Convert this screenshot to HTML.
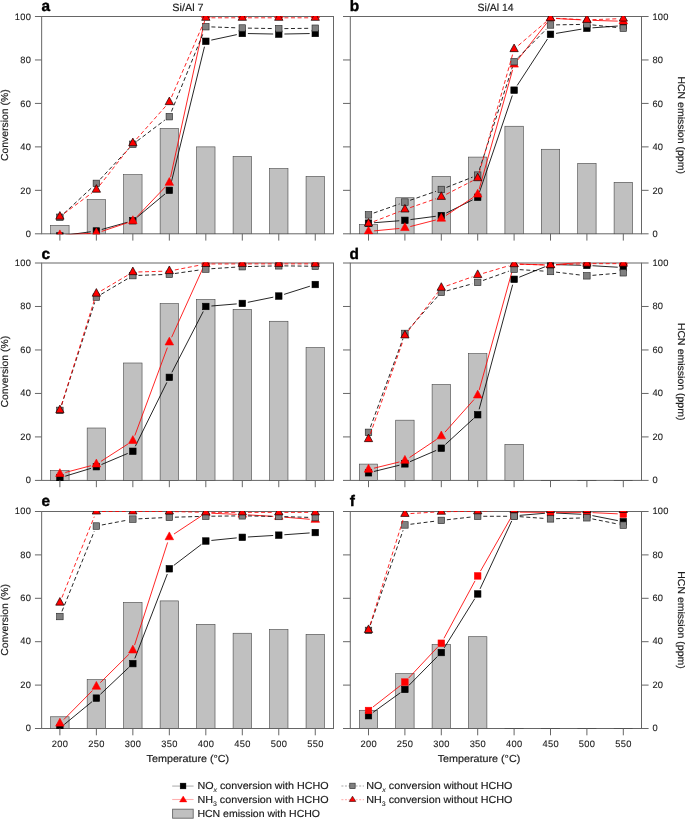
<!DOCTYPE html>
<html><head><meta charset="utf-8"><title>Figure</title>
<style>
html,body{margin:0;padding:0;background:#fff;}
body{width:685px;height:819px;overflow:hidden;}
svg{display:block;will-change:transform;}
text{text-rendering:geometricPrecision;}
.t{font-family:"Liberation Sans", Arial, sans-serif;font-size:10.1px;fill:#1c1c1c;stroke:#1c1c1c;stroke-width:0.18px;}
.k{font-family:"Liberation Sans", Arial, sans-serif;font-size:9.3px;fill:#1c1c1c;letter-spacing:0.3px;stroke:#1c1c1c;stroke-width:0.12px;}
.sub{font-size:6.6px;stroke-width:0.08px;}
.pl{font-family:"Liberation Sans", Arial, sans-serif;font-size:15.4px;font-weight:bold;fill:#000;stroke:#000;stroke-width:0.4px;}
</style></head><body>
<svg width="685" height="819" viewBox="0 0 685 819">
<rect width="685" height="819" fill="#fff"/>
<clipPath id="clip_a"><rect x="41.15" y="16" width="292.85" height="218.3"/></clipPath>
<rect x="41.65" y="16.5" width="291.85" height="217.3" fill="none" stroke="#666" stroke-width="1"/>
<g clip-path="url(#clip_a)">
<rect x="50.69" y="225.33" width="18.4" height="8.48" fill="#c0c0c0" stroke="#444" stroke-width="0.6"/>
<rect x="87.17" y="199.68" width="18.4" height="34.13" fill="#c0c0c0" stroke="#444" stroke-width="0.6"/>
<rect x="123.65" y="174.69" width="18.4" height="59.12" fill="#c0c0c0" stroke="#444" stroke-width="0.6"/>
<rect x="160.13" y="128.41" width="18.4" height="105.4" fill="#c0c0c0" stroke="#444" stroke-width="0.6"/>
<rect x="196.62" y="146.88" width="18.4" height="86.93" fill="#c0c0c0" stroke="#444" stroke-width="0.6"/>
<rect x="233.1" y="156.44" width="18.4" height="77.37" fill="#c0c0c0" stroke="#444" stroke-width="0.6"/>
<rect x="269.58" y="168.61" width="18.4" height="65.2" fill="#c0c0c0" stroke="#444" stroke-width="0.6"/>
<rect x="306.06" y="176.43" width="18.4" height="57.38" fill="#c0c0c0" stroke="#444" stroke-width="0.6"/>
<line x1="65.44" y1="235.21" x2="90.82" y2="231.74" stroke="#000" stroke-width="0.85"/>
<line x1="101.76" y1="229.47" x2="127.46" y2="222.27" stroke="#000" stroke-width="0.85"/>
<line x1="137.15" y1="217.18" x2="165.03" y2="193.93" stroke="#000" stroke-width="0.85"/>
<line x1="170.67" y1="184.9" x2="204.48" y2="46.71" stroke="#000" stroke-width="0.85"/>
<line x1="211.29" y1="40.1" x2="236.82" y2="34.62" stroke="#000" stroke-width="0.85"/>
<line x1="247.9" y1="33.55" x2="273.18" y2="34" stroke="#000" stroke-width="0.85"/>
<line x1="284.38" y1="34" x2="309.66" y2="33.55" stroke="#000" stroke-width="0.85"/>
<rect x="56.64" y="232.72" width="6.5" height="6.5" fill="#000" stroke="#000" stroke-width="0.6"/>
<rect x="93.12" y="227.73" width="6.5" height="6.5" fill="#000" stroke="#000" stroke-width="0.6"/>
<rect x="129.6" y="217.51" width="6.5" height="6.5" fill="#000" stroke="#000" stroke-width="0.6"/>
<rect x="166.08" y="187.09" width="6.5" height="6.5" fill="#000" stroke="#000" stroke-width="0.6"/>
<rect x="202.57" y="38.02" width="6.5" height="6.5" fill="#000" stroke="#000" stroke-width="0.6"/>
<rect x="239.05" y="30.2" width="6.5" height="6.5" fill="#000" stroke="#000" stroke-width="0.6"/>
<rect x="275.53" y="30.85" width="6.5" height="6.5" fill="#000" stroke="#000" stroke-width="0.6"/>
<rect x="312.01" y="30.2" width="6.5" height="6.5" fill="#000" stroke="#000" stroke-width="0.6"/>
<line x1="65.48" y1="234.8" x2="90.78" y2="233.45" stroke="#f00" stroke-width="0.85"/>
<line x1="101.68" y1="231.38" x2="127.54" y2="222.75" stroke="#f00" stroke-width="0.85"/>
<line x1="136.72" y1="216.93" x2="165.47" y2="186.79" stroke="#f00" stroke-width="0.85"/>
<line x1="170.53" y1="177.26" x2="204.62" y2="20.67" stroke="#f00" stroke-width="0.85"/>
<line x1="211.42" y1="15.2" x2="236.7" y2="15.2" stroke="#f00" stroke-width="0.85"/>
<line x1="247.9" y1="15.2" x2="273.18" y2="15.2" stroke="#f00" stroke-width="0.85"/>
<line x1="284.38" y1="15.2" x2="309.66" y2="15.2" stroke="#f00" stroke-width="0.85"/>
<path d="M59.89 229.9L64.14 237.7L55.64 237.7Z" fill="#f00" stroke="#f00" stroke-width="0.6" stroke-linejoin="miter"/>
<path d="M96.37 227.95L100.62 235.75L92.12 235.75Z" fill="#f00" stroke="#f00" stroke-width="0.6" stroke-linejoin="miter"/>
<path d="M132.85 215.78L137.1 223.58L128.6 223.58Z" fill="#f00" stroke="#f00" stroke-width="0.6" stroke-linejoin="miter"/>
<path d="M169.33 177.53L173.58 185.33L165.08 185.33Z" fill="#f00" stroke="#f00" stroke-width="0.6" stroke-linejoin="miter"/>
<path d="M205.82 10L210.07 17.8L201.57 17.8Z" fill="#f00" stroke="#f00" stroke-width="0.6" stroke-linejoin="miter"/>
<path d="M242.3 10L246.55 17.8L238.05 17.8Z" fill="#f00" stroke="#f00" stroke-width="0.6" stroke-linejoin="miter"/>
<path d="M278.78 10L283.03 17.8L274.53 17.8Z" fill="#f00" stroke="#f00" stroke-width="0.6" stroke-linejoin="miter"/>
<path d="M315.26 10L319.51 17.8L311.01 17.8Z" fill="#f00" stroke="#f00" stroke-width="0.6" stroke-linejoin="miter"/>
<line x1="63.99" y1="213.47" x2="92.27" y2="187.2" stroke="#000" stroke-width="0.85" stroke-dasharray="4 2.6"/>
<line x1="100.19" y1="179.29" x2="129.03" y2="148.37" stroke="#000" stroke-width="0.85" stroke-dasharray="4 2.6"/>
<line x1="137.32" y1="140.89" x2="164.87" y2="120.05" stroke="#000" stroke-width="0.85" stroke-dasharray="4 2.6"/>
<line x1="171.44" y1="111.49" x2="203.71" y2="31.9" stroke="#000" stroke-width="0.85" stroke-dasharray="4 2.6"/>
<line x1="211.41" y1="26.91" x2="236.7" y2="27.82" stroke="#000" stroke-width="0.85" stroke-dasharray="4 2.6"/>
<line x1="247.9" y1="28.12" x2="273.18" y2="28.57" stroke="#000" stroke-width="0.85" stroke-dasharray="4 2.6"/>
<line x1="284.38" y1="28.6" x2="309.66" y2="28.3" stroke="#000" stroke-width="0.85" stroke-dasharray="4 2.6"/>
<rect x="56.64" y="214.04" width="6.5" height="6.5" fill="#808080" stroke="#222" stroke-width="0.6"/>
<rect x="93.12" y="180.14" width="6.5" height="6.5" fill="#808080" stroke="#222" stroke-width="0.6"/>
<rect x="129.6" y="141.02" width="6.5" height="6.5" fill="#808080" stroke="#222" stroke-width="0.6"/>
<rect x="166.08" y="113.43" width="6.5" height="6.5" fill="#808080" stroke="#222" stroke-width="0.6"/>
<rect x="202.57" y="23.46" width="6.5" height="6.5" fill="#808080" stroke="#222" stroke-width="0.6"/>
<rect x="239.05" y="24.77" width="6.5" height="6.5" fill="#808080" stroke="#222" stroke-width="0.6"/>
<rect x="275.53" y="25.42" width="6.5" height="6.5" fill="#808080" stroke="#222" stroke-width="0.6"/>
<rect x="312.01" y="24.98" width="6.5" height="6.5" fill="#808080" stroke="#222" stroke-width="0.6"/>
<line x1="64.4" y1="213.31" x2="91.87" y2="193.02" stroke="#f00" stroke-width="0.85" stroke-dasharray="4 2.6"/>
<line x1="99.83" y1="185.28" x2="129.4" y2="147.59" stroke="#f00" stroke-width="0.85" stroke-dasharray="4 2.6"/>
<line x1="136.57" y1="139" x2="165.62" y2="106.3" stroke="#f00" stroke-width="0.85" stroke-dasharray="4 2.6"/>
<line x1="171.56" y1="96.98" x2="203.59" y2="22.94" stroke="#f00" stroke-width="0.85" stroke-dasharray="4 2.6"/>
<line x1="211.42" y1="17.8" x2="236.7" y2="17.8" stroke="#f00" stroke-width="0.85" stroke-dasharray="4 2.6"/>
<line x1="247.9" y1="17.8" x2="273.18" y2="17.8" stroke="#f00" stroke-width="0.85" stroke-dasharray="4 2.6"/>
<line x1="284.38" y1="17.8" x2="309.66" y2="17.8" stroke="#f00" stroke-width="0.85" stroke-dasharray="4 2.6"/>
<path d="M59.89 211.57L64.04 219.17L55.74 219.17Z" fill="#f00" stroke="#100" stroke-width="0.7" stroke-linejoin="miter"/>
<path d="M96.37 184.62L100.52 192.22L92.22 192.22Z" fill="#f00" stroke="#100" stroke-width="0.7" stroke-linejoin="miter"/>
<path d="M132.85 138.12L137 145.72L128.7 145.72Z" fill="#f00" stroke="#100" stroke-width="0.7" stroke-linejoin="miter"/>
<path d="M169.33 97.05L173.48 104.65L165.18 104.65Z" fill="#f00" stroke="#100" stroke-width="0.7" stroke-linejoin="miter"/>
<path d="M205.82 12.74L209.97 20.34L201.67 20.34Z" fill="#f00" stroke="#100" stroke-width="0.7" stroke-linejoin="miter"/>
<path d="M242.3 12.74L246.45 20.34L238.15 20.34Z" fill="#f00" stroke="#100" stroke-width="0.7" stroke-linejoin="miter"/>
<path d="M278.78 12.74L282.93 20.34L274.63 20.34Z" fill="#f00" stroke="#100" stroke-width="0.7" stroke-linejoin="miter"/>
<path d="M315.26 12.74L319.41 20.34L311.11 20.34Z" fill="#f00" stroke="#100" stroke-width="0.7" stroke-linejoin="miter"/>
</g>
<line x1="59.89" y1="233.8" x2="59.89" y2="240.6" stroke="#666" stroke-width="1"/>
<line x1="96.37" y1="233.8" x2="96.37" y2="240.6" stroke="#666" stroke-width="1"/>
<line x1="132.85" y1="233.8" x2="132.85" y2="240.6" stroke="#666" stroke-width="1"/>
<line x1="169.33" y1="233.8" x2="169.33" y2="240.6" stroke="#666" stroke-width="1"/>
<line x1="205.82" y1="233.8" x2="205.82" y2="240.6" stroke="#666" stroke-width="1"/>
<line x1="242.3" y1="233.8" x2="242.3" y2="240.6" stroke="#666" stroke-width="1"/>
<line x1="278.78" y1="233.8" x2="278.78" y2="240.6" stroke="#666" stroke-width="1"/>
<line x1="315.26" y1="233.8" x2="315.26" y2="240.6" stroke="#666" stroke-width="1"/>
<line x1="34.95" y1="233.8" x2="41.65" y2="233.8" stroke="#666" stroke-width="1"/>
<text x="31.2" y="237" text-anchor="end" class="k">0</text>
<line x1="34.95" y1="190.34" x2="41.65" y2="190.34" stroke="#666" stroke-width="1"/>
<text x="31.2" y="193.54" text-anchor="end" class="k">20</text>
<line x1="34.95" y1="146.88" x2="41.65" y2="146.88" stroke="#666" stroke-width="1"/>
<text x="31.2" y="150.08" text-anchor="end" class="k">40</text>
<line x1="34.95" y1="103.42" x2="41.65" y2="103.42" stroke="#666" stroke-width="1"/>
<text x="31.2" y="106.62" text-anchor="end" class="k">60</text>
<line x1="34.95" y1="59.96" x2="41.65" y2="59.96" stroke="#666" stroke-width="1"/>
<text x="31.2" y="63.16" text-anchor="end" class="k">80</text>
<line x1="34.95" y1="16.5" x2="41.65" y2="16.5" stroke="#666" stroke-width="1"/>
<text x="31.2" y="19.7" text-anchor="end" class="k">100</text>
<text transform="translate(7.6 125.15) rotate(-90)" text-anchor="middle" class="t" textLength="71.7" lengthAdjust="spacingAndGlyphs">Conversion (%)</text>
<clipPath id="clip_b"><rect x="349.8" y="16" width="292.2" height="218.3"/></clipPath>
<rect x="350.3" y="16.5" width="291.2" height="217.3" fill="none" stroke="#666" stroke-width="1"/>
<g clip-path="url(#clip_b)">
<rect x="359.3" y="224.67" width="18.4" height="9.14" fill="#c0c0c0" stroke="#444" stroke-width="0.6"/>
<rect x="395.7" y="197.73" width="18.4" height="36.08" fill="#c0c0c0" stroke="#444" stroke-width="0.6"/>
<rect x="432.1" y="176.43" width="18.4" height="57.38" fill="#c0c0c0" stroke="#444" stroke-width="0.6"/>
<rect x="468.5" y="157.09" width="18.4" height="76.72" fill="#c0c0c0" stroke="#444" stroke-width="0.6"/>
<rect x="504.9" y="126.24" width="18.4" height="107.57" fill="#c0c0c0" stroke="#444" stroke-width="0.6"/>
<rect x="541.3" y="149.27" width="18.4" height="84.54" fill="#c0c0c0" stroke="#444" stroke-width="0.6"/>
<rect x="577.7" y="163.39" width="18.4" height="70.42" fill="#c0c0c0" stroke="#444" stroke-width="0.6"/>
<rect x="614.1" y="182.3" width="18.4" height="51.51" fill="#c0c0c0" stroke="#444" stroke-width="0.6"/>
<line x1="374.08" y1="222.72" x2="399.32" y2="220.76" stroke="#000" stroke-width="0.85"/>
<line x1="410.45" y1="219.6" x2="435.75" y2="216.28" stroke="#000" stroke-width="0.85"/>
<line x1="446.31" y1="213.04" x2="472.69" y2="199.8" stroke="#000" stroke-width="0.85"/>
<line x1="479.5" y1="191.99" x2="512.3" y2="95.47" stroke="#000" stroke-width="0.85"/>
<line x1="517.16" y1="85.47" x2="547.44" y2="39.01" stroke="#000" stroke-width="0.85"/>
<line x1="556.02" y1="33.4" x2="581.38" y2="29.16" stroke="#000" stroke-width="0.85"/>
<line x1="592.49" y1="27.83" x2="617.71" y2="26.03" stroke="#000" stroke-width="0.85"/>
<rect x="365.25" y="219.9" width="6.5" height="6.5" fill="#000" stroke="#000" stroke-width="0.6"/>
<rect x="401.65" y="217.08" width="6.5" height="6.5" fill="#000" stroke="#000" stroke-width="0.6"/>
<rect x="438.05" y="212.3" width="6.5" height="6.5" fill="#000" stroke="#000" stroke-width="0.6"/>
<rect x="474.45" y="194.04" width="6.5" height="6.5" fill="#000" stroke="#000" stroke-width="0.6"/>
<rect x="510.85" y="86.91" width="6.5" height="6.5" fill="#000" stroke="#000" stroke-width="0.6"/>
<rect x="547.25" y="31.07" width="6.5" height="6.5" fill="#000" stroke="#000" stroke-width="0.6"/>
<rect x="583.65" y="24.98" width="6.5" height="6.5" fill="#000" stroke="#000" stroke-width="0.6"/>
<rect x="620.05" y="22.38" width="6.5" height="6.5" fill="#000" stroke="#000" stroke-width="0.6"/>
<line x1="374.07" y1="230.88" x2="399.33" y2="228.47" stroke="#f00" stroke-width="0.85"/>
<line x1="410.32" y1="226.54" x2="435.88" y2="219.98" stroke="#f00" stroke-width="0.85"/>
<line x1="445.97" y1="215.5" x2="473.03" y2="197.56" stroke="#f00" stroke-width="0.85"/>
<line x1="479.21" y1="189.08" x2="512.59" y2="69.92" stroke="#f00" stroke-width="0.85"/>
<line x1="517.56" y1="60.12" x2="547.04" y2="22.64" stroke="#f00" stroke-width="0.85"/>
<line x1="556.09" y1="18.54" x2="581.31" y2="19.89" stroke="#f00" stroke-width="0.85"/>
<line x1="592.5" y1="20.36" x2="617.7" y2="21.11" stroke="#f00" stroke-width="0.85"/>
<path d="M368.5 226.21L372.75 234.01L364.25 234.01Z" fill="#f00" stroke="#f00" stroke-width="0.6" stroke-linejoin="miter"/>
<path d="M404.9 222.73L409.15 230.53L400.65 230.53Z" fill="#f00" stroke="#f00" stroke-width="0.6" stroke-linejoin="miter"/>
<path d="M441.3 213.39L445.55 221.19L437.05 221.19Z" fill="#f00" stroke="#f00" stroke-width="0.6" stroke-linejoin="miter"/>
<path d="M477.7 189.27L481.95 197.07L473.45 197.07Z" fill="#f00" stroke="#f00" stroke-width="0.6" stroke-linejoin="miter"/>
<path d="M514.1 59.32L518.35 67.12L509.85 67.12Z" fill="#f00" stroke="#f00" stroke-width="0.6" stroke-linejoin="miter"/>
<path d="M550.5 13.04L554.75 20.84L546.25 20.84Z" fill="#f00" stroke="#f00" stroke-width="0.6" stroke-linejoin="miter"/>
<path d="M586.9 14.99L591.15 22.79L582.65 22.79Z" fill="#f00" stroke="#f00" stroke-width="0.6" stroke-linejoin="miter"/>
<path d="M623.3 16.08L627.55 23.88L619.05 23.88Z" fill="#f00" stroke="#f00" stroke-width="0.6" stroke-linejoin="miter"/>
<line x1="373.78" y1="213.03" x2="399.62" y2="203.93" stroke="#000" stroke-width="0.85" stroke-dasharray="4 2.6"/>
<line x1="410.19" y1="200.24" x2="436.01" y2="191.3" stroke="#000" stroke-width="0.85" stroke-dasharray="4 2.6"/>
<line x1="446.51" y1="187.42" x2="472.49" y2="177.18" stroke="#000" stroke-width="0.85" stroke-dasharray="4 2.6"/>
<line x1="479.41" y1="169.8" x2="512.39" y2="67.03" stroke="#000" stroke-width="0.85" stroke-dasharray="4 2.6"/>
<line x1="518.04" y1="57.72" x2="546.56" y2="28.95" stroke="#000" stroke-width="0.85" stroke-dasharray="4 2.6"/>
<line x1="556.1" y1="24.87" x2="581.3" y2="24.42" stroke="#000" stroke-width="0.85" stroke-dasharray="4 2.6"/>
<line x1="592.47" y1="24.92" x2="617.73" y2="27.64" stroke="#000" stroke-width="0.85" stroke-dasharray="4 2.6"/>
<rect x="365.25" y="211.64" width="6.5" height="6.5" fill="#808080" stroke="#222" stroke-width="0.6"/>
<rect x="401.65" y="198.82" width="6.5" height="6.5" fill="#808080" stroke="#222" stroke-width="0.6"/>
<rect x="438.05" y="186.22" width="6.5" height="6.5" fill="#808080" stroke="#222" stroke-width="0.6"/>
<rect x="474.45" y="171.88" width="6.5" height="6.5" fill="#808080" stroke="#222" stroke-width="0.6"/>
<rect x="510.85" y="58.45" width="6.5" height="6.5" fill="#808080" stroke="#222" stroke-width="0.6"/>
<rect x="547.25" y="21.72" width="6.5" height="6.5" fill="#808080" stroke="#222" stroke-width="0.6"/>
<rect x="583.65" y="21.07" width="6.5" height="6.5" fill="#808080" stroke="#222" stroke-width="0.6"/>
<rect x="620.05" y="24.98" width="6.5" height="6.5" fill="#808080" stroke="#222" stroke-width="0.6"/>
<line x1="373.72" y1="221.56" x2="399.68" y2="211.49" stroke="#f00" stroke-width="0.85" stroke-dasharray="4 2.6"/>
<line x1="410.19" y1="207.63" x2="436.01" y2="198.69" stroke="#f00" stroke-width="0.85" stroke-dasharray="4 2.6"/>
<line x1="446.28" y1="194.3" x2="472.72" y2="180.73" stroke="#f00" stroke-width="0.85" stroke-dasharray="4 2.6"/>
<line x1="479.22" y1="172.78" x2="512.58" y2="54.48" stroke="#f00" stroke-width="0.85" stroke-dasharray="4 2.6"/>
<line x1="518.36" y1="45.46" x2="546.24" y2="21.66" stroke="#f00" stroke-width="0.85" stroke-dasharray="4 2.6"/>
<line x1="556.09" y1="18.3" x2="581.31" y2="19.58" stroke="#f00" stroke-width="0.85" stroke-dasharray="4 2.6"/>
<line x1="592.5" y1="19.67" x2="617.7" y2="18.76" stroke="#f00" stroke-width="0.85" stroke-dasharray="4 2.6"/>
<path d="M368.5 218.52L372.65 226.12L364.35 226.12Z" fill="#f00" stroke="#100" stroke-width="0.7" stroke-linejoin="miter"/>
<path d="M404.9 204.4L409.05 212L400.75 212Z" fill="#f00" stroke="#100" stroke-width="0.7" stroke-linejoin="miter"/>
<path d="M441.3 191.79L445.45 199.39L437.15 199.39Z" fill="#f00" stroke="#100" stroke-width="0.7" stroke-linejoin="miter"/>
<path d="M477.7 173.1L481.85 180.7L473.55 180.7Z" fill="#f00" stroke="#100" stroke-width="0.7" stroke-linejoin="miter"/>
<path d="M514.1 44.03L518.25 51.63L509.95 51.63Z" fill="#f00" stroke="#100" stroke-width="0.7" stroke-linejoin="miter"/>
<path d="M550.5 12.95L554.65 20.55L546.35 20.55Z" fill="#f00" stroke="#100" stroke-width="0.7" stroke-linejoin="miter"/>
<path d="M586.9 14.8L591.05 22.4L582.75 22.4Z" fill="#f00" stroke="#100" stroke-width="0.7" stroke-linejoin="miter"/>
<path d="M623.3 13.5L627.45 21.1L619.15 21.1Z" fill="#f00" stroke="#100" stroke-width="0.7" stroke-linejoin="miter"/>
</g>
<line x1="368.5" y1="233.8" x2="368.5" y2="240.6" stroke="#666" stroke-width="1"/>
<line x1="404.9" y1="233.8" x2="404.9" y2="240.6" stroke="#666" stroke-width="1"/>
<line x1="441.3" y1="233.8" x2="441.3" y2="240.6" stroke="#666" stroke-width="1"/>
<line x1="477.7" y1="233.8" x2="477.7" y2="240.6" stroke="#666" stroke-width="1"/>
<line x1="514.1" y1="233.8" x2="514.1" y2="240.6" stroke="#666" stroke-width="1"/>
<line x1="550.5" y1="233.8" x2="550.5" y2="240.6" stroke="#666" stroke-width="1"/>
<line x1="586.9" y1="233.8" x2="586.9" y2="240.6" stroke="#666" stroke-width="1"/>
<line x1="623.3" y1="233.8" x2="623.3" y2="240.6" stroke="#666" stroke-width="1"/>
<line x1="343" y1="233.8" x2="350.3" y2="233.8" stroke="#666" stroke-width="1"/>
<line x1="641.5" y1="233.8" x2="648.6" y2="233.8" stroke="#666" stroke-width="1"/>
<text x="652.4" y="237" class="k">0</text>
<line x1="343" y1="190.34" x2="350.3" y2="190.34" stroke="#666" stroke-width="1"/>
<line x1="641.5" y1="190.34" x2="648.6" y2="190.34" stroke="#666" stroke-width="1"/>
<text x="652.4" y="193.54" class="k">20</text>
<line x1="343" y1="146.88" x2="350.3" y2="146.88" stroke="#666" stroke-width="1"/>
<line x1="641.5" y1="146.88" x2="648.6" y2="146.88" stroke="#666" stroke-width="1"/>
<text x="652.4" y="150.08" class="k">40</text>
<line x1="343" y1="103.42" x2="350.3" y2="103.42" stroke="#666" stroke-width="1"/>
<line x1="641.5" y1="103.42" x2="648.6" y2="103.42" stroke="#666" stroke-width="1"/>
<text x="652.4" y="106.62" class="k">60</text>
<line x1="343" y1="59.96" x2="350.3" y2="59.96" stroke="#666" stroke-width="1"/>
<line x1="641.5" y1="59.96" x2="648.6" y2="59.96" stroke="#666" stroke-width="1"/>
<text x="652.4" y="63.16" class="k">80</text>
<line x1="343" y1="16.5" x2="350.3" y2="16.5" stroke="#666" stroke-width="1"/>
<line x1="641.5" y1="16.5" x2="648.6" y2="16.5" stroke="#666" stroke-width="1"/>
<text x="652.4" y="19.7" class="k">100</text>
<text transform="translate(677.6 125.15) rotate(90)" text-anchor="middle" class="t" textLength="97.5" lengthAdjust="spacingAndGlyphs">HCN emission (ppm)</text>
<clipPath id="clip_c"><rect x="41.15" y="262.5" width="292.85" height="218.4"/></clipPath>
<rect x="41.65" y="263" width="291.85" height="217.4" fill="none" stroke="#666" stroke-width="1"/>
<g clip-path="url(#clip_c)">
<rect x="50.69" y="470.4" width="18.4" height="10.01" fill="#c0c0c0" stroke="#444" stroke-width="0.6"/>
<rect x="87.17" y="428.01" width="18.4" height="52.4" fill="#c0c0c0" stroke="#444" stroke-width="0.6"/>
<rect x="123.65" y="363" width="18.4" height="117.41" fill="#c0c0c0" stroke="#444" stroke-width="0.6"/>
<rect x="160.13" y="303.65" width="18.4" height="176.76" fill="#c0c0c0" stroke="#444" stroke-width="0.6"/>
<rect x="196.62" y="299.52" width="18.4" height="180.89" fill="#c0c0c0" stroke="#444" stroke-width="0.6"/>
<rect x="233.1" y="309.31" width="18.4" height="171.1" fill="#c0c0c0" stroke="#444" stroke-width="0.6"/>
<rect x="269.58" y="321.26" width="18.4" height="159.15" fill="#c0c0c0" stroke="#444" stroke-width="0.6"/>
<rect x="306.06" y="347.57" width="18.4" height="132.84" fill="#c0c0c0" stroke="#444" stroke-width="0.6"/>
<line x1="65.25" y1="476.16" x2="91.01" y2="468.33" stroke="#000" stroke-width="0.85"/>
<line x1="101.53" y1="464.52" x2="127.7" y2="453.45" stroke="#000" stroke-width="0.85"/>
<line x1="135.33" y1="446.25" x2="166.86" y2="382.37" stroke="#000" stroke-width="0.85"/>
<line x1="171.9" y1="372.37" x2="203.25" y2="311.46" stroke="#000" stroke-width="0.85"/>
<line x1="211.4" y1="306.01" x2="236.72" y2="303.9" stroke="#000" stroke-width="0.85"/>
<line x1="247.79" y1="302.32" x2="273.29" y2="297.16" stroke="#000" stroke-width="0.85"/>
<line x1="284.12" y1="294.36" x2="309.92" y2="286.21" stroke="#000" stroke-width="0.85"/>
<rect x="56.64" y="474.54" width="6.5" height="6.5" fill="#000" stroke="#000" stroke-width="0.6"/>
<rect x="93.12" y="463.45" width="6.5" height="6.5" fill="#000" stroke="#000" stroke-width="0.6"/>
<rect x="129.6" y="448.02" width="6.5" height="6.5" fill="#000" stroke="#000" stroke-width="0.6"/>
<rect x="166.08" y="374.1" width="6.5" height="6.5" fill="#000" stroke="#000" stroke-width="0.6"/>
<rect x="202.57" y="303.23" width="6.5" height="6.5" fill="#000" stroke="#000" stroke-width="0.6"/>
<rect x="239.05" y="300.19" width="6.5" height="6.5" fill="#000" stroke="#000" stroke-width="0.6"/>
<rect x="275.53" y="292.79" width="6.5" height="6.5" fill="#000" stroke="#000" stroke-width="0.6"/>
<rect x="312.01" y="281.27" width="6.5" height="6.5" fill="#000" stroke="#000" stroke-width="0.6"/>
<line x1="65.31" y1="472.46" x2="90.95" y2="465.73" stroke="#f00" stroke-width="0.85"/>
<line x1="101.08" y1="461.28" x2="128.14" y2="443.86" stroke="#f00" stroke-width="0.85"/>
<line x1="134.8" y1="435.58" x2="167.39" y2="347.6" stroke="#f00" stroke-width="0.85"/>
<line x1="171.64" y1="337.25" x2="203.51" y2="266.8" stroke="#f00" stroke-width="0.85"/>
<line x1="211.42" y1="261.7" x2="236.7" y2="261.7" stroke="#f00" stroke-width="0.85"/>
<line x1="247.9" y1="261.7" x2="273.18" y2="261.7" stroke="#f00" stroke-width="0.85"/>
<line x1="284.38" y1="261.7" x2="309.66" y2="261.7" stroke="#f00" stroke-width="0.85"/>
<path d="M59.89 468.68L64.14 476.48L55.64 476.48Z" fill="#f00" stroke="#f00" stroke-width="0.6" stroke-linejoin="miter"/>
<path d="M96.37 459.11L100.62 466.91L92.12 466.91Z" fill="#f00" stroke="#f00" stroke-width="0.6" stroke-linejoin="miter"/>
<path d="M132.85 435.63L137.1 443.43L128.6 443.43Z" fill="#f00" stroke="#f00" stroke-width="0.6" stroke-linejoin="miter"/>
<path d="M169.33 337.15L173.58 344.95L165.08 344.95Z" fill="#f00" stroke="#f00" stroke-width="0.6" stroke-linejoin="miter"/>
<path d="M205.82 256.5L210.07 264.3L201.57 264.3Z" fill="#f00" stroke="#f00" stroke-width="0.6" stroke-linejoin="miter"/>
<path d="M242.3 256.5L246.55 264.3L238.05 264.3Z" fill="#f00" stroke="#f00" stroke-width="0.6" stroke-linejoin="miter"/>
<path d="M278.78 256.5L283.03 264.3L274.53 264.3Z" fill="#f00" stroke="#f00" stroke-width="0.6" stroke-linejoin="miter"/>
<path d="M315.26 256.5L319.51 264.3L311.01 264.3Z" fill="#f00" stroke="#f00" stroke-width="0.6" stroke-linejoin="miter"/>
<line x1="61.61" y1="405.07" x2="94.66" y2="302.46" stroke="#000" stroke-width="0.85" stroke-dasharray="4 2.6"/>
<line x1="101.2" y1="294.29" x2="128.03" y2="278.45" stroke="#000" stroke-width="0.85" stroke-dasharray="4 2.6"/>
<line x1="138.45" y1="275.41" x2="163.74" y2="274.5" stroke="#000" stroke-width="0.85" stroke-dasharray="4 2.6"/>
<line x1="174.88" y1="273.51" x2="200.27" y2="269.88" stroke="#000" stroke-width="0.85" stroke-dasharray="4 2.6"/>
<line x1="211.4" y1="268.72" x2="236.71" y2="267.06" stroke="#000" stroke-width="0.85" stroke-dasharray="4 2.6"/>
<line x1="247.9" y1="266.56" x2="273.18" y2="265.96" stroke="#000" stroke-width="0.85" stroke-dasharray="4 2.6"/>
<line x1="284.38" y1="265.89" x2="309.66" y2="266.19" stroke="#000" stroke-width="0.85" stroke-dasharray="4 2.6"/>
<rect x="56.64" y="407.15" width="6.5" height="6.5" fill="#808080" stroke="#222" stroke-width="0.6"/>
<rect x="93.12" y="293.88" width="6.5" height="6.5" fill="#808080" stroke="#222" stroke-width="0.6"/>
<rect x="129.6" y="272.36" width="6.5" height="6.5" fill="#808080" stroke="#222" stroke-width="0.6"/>
<rect x="166.08" y="271.05" width="6.5" height="6.5" fill="#808080" stroke="#222" stroke-width="0.6"/>
<rect x="202.57" y="265.84" width="6.5" height="6.5" fill="#808080" stroke="#222" stroke-width="0.6"/>
<rect x="239.05" y="263.45" width="6.5" height="6.5" fill="#808080" stroke="#222" stroke-width="0.6"/>
<rect x="275.53" y="262.58" width="6.5" height="6.5" fill="#808080" stroke="#222" stroke-width="0.6"/>
<rect x="312.01" y="263.01" width="6.5" height="6.5" fill="#808080" stroke="#222" stroke-width="0.6"/>
<line x1="61.56" y1="404.84" x2="94.7" y2="299" stroke="#f00" stroke-width="0.85" stroke-dasharray="4 2.6"/>
<line x1="101.2" y1="290.81" x2="128.03" y2="274.98" stroke="#f00" stroke-width="0.85" stroke-dasharray="4 2.6"/>
<line x1="138.45" y1="271.96" x2="163.74" y2="271.21" stroke="#f00" stroke-width="0.85" stroke-dasharray="4 2.6"/>
<line x1="174.83" y1="269.98" x2="200.32" y2="265.04" stroke="#f00" stroke-width="0.85" stroke-dasharray="4 2.6"/>
<line x1="211.42" y1="263.96" x2="236.7" y2="263.89" stroke="#f00" stroke-width="0.85" stroke-dasharray="4 2.6"/>
<line x1="247.9" y1="263.87" x2="273.18" y2="263.87" stroke="#f00" stroke-width="0.85" stroke-dasharray="4 2.6"/>
<line x1="284.38" y1="263.87" x2="309.66" y2="263.87" stroke="#f00" stroke-width="0.85" stroke-dasharray="4 2.6"/>
<path d="M59.89 405.11L64.04 412.71L55.74 412.71Z" fill="#f00" stroke="#100" stroke-width="0.7" stroke-linejoin="miter"/>
<path d="M96.37 288.59L100.52 296.19L92.22 296.19Z" fill="#f00" stroke="#100" stroke-width="0.7" stroke-linejoin="miter"/>
<path d="M132.85 267.06L137 274.66L128.7 274.66Z" fill="#f00" stroke="#100" stroke-width="0.7" stroke-linejoin="miter"/>
<path d="M169.33 265.98L173.48 273.58L165.18 273.58Z" fill="#f00" stroke="#100" stroke-width="0.7" stroke-linejoin="miter"/>
<path d="M205.82 258.91L209.97 266.51L201.67 266.51Z" fill="#f00" stroke="#100" stroke-width="0.7" stroke-linejoin="miter"/>
<path d="M242.3 258.8L246.45 266.4L238.15 266.4Z" fill="#f00" stroke="#100" stroke-width="0.7" stroke-linejoin="miter"/>
<path d="M278.78 258.8L282.93 266.4L274.63 266.4Z" fill="#f00" stroke="#100" stroke-width="0.7" stroke-linejoin="miter"/>
<path d="M315.26 258.8L319.41 266.4L311.11 266.4Z" fill="#f00" stroke="#100" stroke-width="0.7" stroke-linejoin="miter"/>
</g>
<line x1="59.89" y1="480.4" x2="59.89" y2="487.2" stroke="#666" stroke-width="1"/>
<line x1="96.37" y1="480.4" x2="96.37" y2="487.2" stroke="#666" stroke-width="1"/>
<line x1="132.85" y1="480.4" x2="132.85" y2="487.2" stroke="#666" stroke-width="1"/>
<line x1="169.33" y1="480.4" x2="169.33" y2="487.2" stroke="#666" stroke-width="1"/>
<line x1="205.82" y1="480.4" x2="205.82" y2="487.2" stroke="#666" stroke-width="1"/>
<line x1="242.3" y1="480.4" x2="242.3" y2="487.2" stroke="#666" stroke-width="1"/>
<line x1="278.78" y1="480.4" x2="278.78" y2="487.2" stroke="#666" stroke-width="1"/>
<line x1="315.26" y1="480.4" x2="315.26" y2="487.2" stroke="#666" stroke-width="1"/>
<line x1="34.95" y1="480.4" x2="41.65" y2="480.4" stroke="#666" stroke-width="1"/>
<text x="31.2" y="483.4" text-anchor="end" class="k">0</text>
<line x1="34.95" y1="436.92" x2="41.65" y2="436.92" stroke="#666" stroke-width="1"/>
<text x="31.2" y="439.92" text-anchor="end" class="k">20</text>
<line x1="34.95" y1="393.44" x2="41.65" y2="393.44" stroke="#666" stroke-width="1"/>
<text x="31.2" y="396.44" text-anchor="end" class="k">40</text>
<line x1="34.95" y1="349.96" x2="41.65" y2="349.96" stroke="#666" stroke-width="1"/>
<text x="31.2" y="352.96" text-anchor="end" class="k">60</text>
<line x1="34.95" y1="306.48" x2="41.65" y2="306.48" stroke="#666" stroke-width="1"/>
<text x="31.2" y="309.48" text-anchor="end" class="k">80</text>
<line x1="34.95" y1="263" x2="41.65" y2="263" stroke="#666" stroke-width="1"/>
<text x="31.2" y="266" text-anchor="end" class="k">100</text>
<text transform="translate(7.6 371.7) rotate(-90)" text-anchor="middle" class="t" textLength="71.7" lengthAdjust="spacingAndGlyphs">Conversion (%)</text>
<clipPath id="clip_d"><rect x="349.8" y="262.5" width="292.2" height="218.4"/></clipPath>
<rect x="350.3" y="263" width="291.2" height="217.4" fill="none" stroke="#666" stroke-width="1"/>
<g clip-path="url(#clip_d)">
<rect x="359.3" y="464.09" width="18.4" height="16.32" fill="#c0c0c0" stroke="#444" stroke-width="0.6"/>
<rect x="395.7" y="420.18" width="18.4" height="60.23" fill="#c0c0c0" stroke="#444" stroke-width="0.6"/>
<rect x="432.1" y="384.53" width="18.4" height="95.88" fill="#c0c0c0" stroke="#444" stroke-width="0.6"/>
<rect x="468.5" y="353.66" width="18.4" height="126.75" fill="#c0c0c0" stroke="#444" stroke-width="0.6"/>
<rect x="504.9" y="444.31" width="18.4" height="36.1" fill="#c0c0c0" stroke="#444" stroke-width="0.6"/>
<rect x="541.3" y="480.4" width="18.4" height="0.01" fill="#c0c0c0" stroke="#444" stroke-width="0.6"/>
<rect x="577.7" y="480.4" width="18.4" height="0.01" fill="#c0c0c0" stroke="#444" stroke-width="0.6"/>
<rect x="614.1" y="480.4" width="18.4" height="0.01" fill="#c0c0c0" stroke="#444" stroke-width="0.6"/>
<line x1="373.94" y1="471.46" x2="399.46" y2="465.21" stroke="#000" stroke-width="0.85"/>
<line x1="410.04" y1="461.67" x2="436.16" y2="450.44" stroke="#000" stroke-width="0.85"/>
<line x1="445.42" y1="444.43" x2="473.58" y2="418.54" stroke="#000" stroke-width="0.85"/>
<line x1="479.15" y1="409.34" x2="512.65" y2="284.71" stroke="#000" stroke-width="0.85"/>
<line x1="519.29" y1="277.2" x2="545.31" y2="266.63" stroke="#000" stroke-width="0.85"/>
<line x1="556.1" y1="264.66" x2="581.3" y2="265.26" stroke="#000" stroke-width="0.85"/>
<line x1="592.49" y1="265.73" x2="617.71" y2="267.23" stroke="#000" stroke-width="0.85"/>
<rect x="365.25" y="469.54" width="6.5" height="6.5" fill="#000" stroke="#000" stroke-width="0.6"/>
<rect x="401.65" y="460.63" width="6.5" height="6.5" fill="#000" stroke="#000" stroke-width="0.6"/>
<rect x="438.05" y="444.97" width="6.5" height="6.5" fill="#000" stroke="#000" stroke-width="0.6"/>
<rect x="474.45" y="411.5" width="6.5" height="6.5" fill="#000" stroke="#000" stroke-width="0.6"/>
<rect x="510.85" y="276.05" width="6.5" height="6.5" fill="#000" stroke="#000" stroke-width="0.6"/>
<rect x="547.25" y="261.27" width="6.5" height="6.5" fill="#000" stroke="#000" stroke-width="0.6"/>
<rect x="583.65" y="262.14" width="6.5" height="6.5" fill="#000" stroke="#000" stroke-width="0.6"/>
<rect x="620.05" y="264.32" width="6.5" height="6.5" fill="#000" stroke="#000" stroke-width="0.6"/>
<line x1="373.94" y1="468.2" x2="399.46" y2="461.95" stroke="#f00" stroke-width="0.85"/>
<line x1="409.55" y1="457.5" x2="436.65" y2="439.38" stroke="#f00" stroke-width="0.85"/>
<line x1="445.02" y1="432.09" x2="473.98" y2="399.58" stroke="#f00" stroke-width="0.85"/>
<line x1="479.19" y1="390" x2="512.61" y2="269.27" stroke="#f00" stroke-width="0.85"/>
<line x1="519.7" y1="264.07" x2="544.9" y2="264.97" stroke="#f00" stroke-width="0.85"/>
<line x1="556.07" y1="264.64" x2="581.33" y2="262.23" stroke="#f00" stroke-width="0.85"/>
<line x1="592.5" y1="261.7" x2="617.7" y2="261.7" stroke="#f00" stroke-width="0.85"/>
<path d="M368.5 464.33L372.75 472.13L364.25 472.13Z" fill="#f00" stroke="#f00" stroke-width="0.6" stroke-linejoin="miter"/>
<path d="M404.9 455.42L409.15 463.22L400.65 463.22Z" fill="#f00" stroke="#f00" stroke-width="0.6" stroke-linejoin="miter"/>
<path d="M441.3 431.07L445.55 438.87L437.05 438.87Z" fill="#f00" stroke="#f00" stroke-width="0.6" stroke-linejoin="miter"/>
<path d="M477.7 390.2L481.95 398L473.45 398Z" fill="#f00" stroke="#f00" stroke-width="0.6" stroke-linejoin="miter"/>
<path d="M514.1 258.67L518.35 266.47L509.85 266.47Z" fill="#f00" stroke="#f00" stroke-width="0.6" stroke-linejoin="miter"/>
<path d="M550.5 259.97L554.75 267.77L546.25 267.77Z" fill="#f00" stroke="#f00" stroke-width="0.6" stroke-linejoin="miter"/>
<path d="M586.9 256.5L591.15 264.3L582.65 264.3Z" fill="#f00" stroke="#f00" stroke-width="0.6" stroke-linejoin="miter"/>
<path d="M623.3 256.5L627.55 264.3L619.05 264.3Z" fill="#f00" stroke="#f00" stroke-width="0.6" stroke-linejoin="miter"/>
<line x1="370.43" y1="427.1" x2="402.97" y2="338.69" stroke="#000" stroke-width="0.85" stroke-dasharray="4 2.6"/>
<line x1="408.61" y1="329.25" x2="437.59" y2="296.54" stroke="#000" stroke-width="0.85" stroke-dasharray="4 2.6"/>
<line x1="446.7" y1="290.87" x2="472.3" y2="283.83" stroke="#000" stroke-width="0.85" stroke-dasharray="4 2.6"/>
<line x1="482.97" y1="280.46" x2="508.83" y2="271.19" stroke="#000" stroke-width="0.85" stroke-dasharray="4 2.6"/>
<line x1="519.69" y1="269.64" x2="544.91" y2="271.14" stroke="#000" stroke-width="0.85" stroke-dasharray="4 2.6"/>
<line x1="556.06" y1="272.14" x2="581.34" y2="275.16" stroke="#000" stroke-width="0.85" stroke-dasharray="4 2.6"/>
<line x1="592.48" y1="275.36" x2="617.72" y2="273.25" stroke="#000" stroke-width="0.85" stroke-dasharray="4 2.6"/>
<rect x="365.25" y="429.1" width="6.5" height="6.5" fill="#808080" stroke="#222" stroke-width="0.6"/>
<rect x="401.65" y="330.19" width="6.5" height="6.5" fill="#808080" stroke="#222" stroke-width="0.6"/>
<rect x="438.05" y="289.1" width="6.5" height="6.5" fill="#808080" stroke="#222" stroke-width="0.6"/>
<rect x="474.45" y="279.1" width="6.5" height="6.5" fill="#808080" stroke="#222" stroke-width="0.6"/>
<rect x="510.85" y="266.05" width="6.5" height="6.5" fill="#808080" stroke="#222" stroke-width="0.6"/>
<rect x="547.25" y="268.23" width="6.5" height="6.5" fill="#808080" stroke="#222" stroke-width="0.6"/>
<rect x="583.65" y="272.58" width="6.5" height="6.5" fill="#808080" stroke="#222" stroke-width="0.6"/>
<rect x="620.05" y="269.53" width="6.5" height="6.5" fill="#808080" stroke="#222" stroke-width="0.6"/>
<line x1="370.35" y1="433.81" x2="403.05" y2="340.68" stroke="#f00" stroke-width="0.85" stroke-dasharray="4 2.6"/>
<line x1="408.3" y1="330.95" x2="437.9" y2="292.23" stroke="#f00" stroke-width="0.85" stroke-dasharray="4 2.6"/>
<line x1="446.58" y1="285.92" x2="472.42" y2="276.82" stroke="#f00" stroke-width="0.85" stroke-dasharray="4 2.6"/>
<line x1="483.07" y1="273.37" x2="508.73" y2="265.78" stroke="#f00" stroke-width="0.85" stroke-dasharray="4 2.6"/>
<line x1="519.7" y1="264.31" x2="544.9" y2="264.84" stroke="#f00" stroke-width="0.85" stroke-dasharray="4 2.6"/>
<line x1="556.1" y1="264.76" x2="581.3" y2="263.85" stroke="#f00" stroke-width="0.85" stroke-dasharray="4 2.6"/>
<line x1="592.5" y1="263.65" x2="617.7" y2="263.65" stroke="#f00" stroke-width="0.85" stroke-dasharray="4 2.6"/>
<path d="M368.5 434.03L372.65 441.63L364.35 441.63Z" fill="#f00" stroke="#100" stroke-width="0.7" stroke-linejoin="miter"/>
<path d="M404.9 330.33L409.05 337.93L400.75 337.93Z" fill="#f00" stroke="#100" stroke-width="0.7" stroke-linejoin="miter"/>
<path d="M441.3 282.72L445.45 290.32L437.15 290.32Z" fill="#f00" stroke="#100" stroke-width="0.7" stroke-linejoin="miter"/>
<path d="M477.7 269.89L481.85 277.49L473.55 277.49Z" fill="#f00" stroke="#100" stroke-width="0.7" stroke-linejoin="miter"/>
<path d="M514.1 259.13L518.25 266.73L509.95 266.73Z" fill="#f00" stroke="#100" stroke-width="0.7" stroke-linejoin="miter"/>
<path d="M550.5 259.89L554.65 267.49L546.35 267.49Z" fill="#f00" stroke="#100" stroke-width="0.7" stroke-linejoin="miter"/>
<path d="M586.9 258.59L591.05 266.19L582.75 266.19Z" fill="#f00" stroke="#100" stroke-width="0.7" stroke-linejoin="miter"/>
<path d="M623.3 258.59L627.45 266.19L619.15 266.19Z" fill="#f00" stroke="#100" stroke-width="0.7" stroke-linejoin="miter"/>
</g>
<line x1="368.5" y1="480.4" x2="368.5" y2="487.2" stroke="#666" stroke-width="1"/>
<line x1="404.9" y1="480.4" x2="404.9" y2="487.2" stroke="#666" stroke-width="1"/>
<line x1="441.3" y1="480.4" x2="441.3" y2="487.2" stroke="#666" stroke-width="1"/>
<line x1="477.7" y1="480.4" x2="477.7" y2="487.2" stroke="#666" stroke-width="1"/>
<line x1="514.1" y1="480.4" x2="514.1" y2="487.2" stroke="#666" stroke-width="1"/>
<line x1="550.5" y1="480.4" x2="550.5" y2="487.2" stroke="#666" stroke-width="1"/>
<line x1="586.9" y1="480.4" x2="586.9" y2="487.2" stroke="#666" stroke-width="1"/>
<line x1="623.3" y1="480.4" x2="623.3" y2="487.2" stroke="#666" stroke-width="1"/>
<line x1="343" y1="480.4" x2="350.3" y2="480.4" stroke="#666" stroke-width="1"/>
<line x1="641.5" y1="480.4" x2="648.6" y2="480.4" stroke="#666" stroke-width="1"/>
<text x="652.4" y="483.4" class="k">0</text>
<line x1="343" y1="436.92" x2="350.3" y2="436.92" stroke="#666" stroke-width="1"/>
<line x1="641.5" y1="436.92" x2="648.6" y2="436.92" stroke="#666" stroke-width="1"/>
<text x="652.4" y="439.92" class="k">20</text>
<line x1="343" y1="393.44" x2="350.3" y2="393.44" stroke="#666" stroke-width="1"/>
<line x1="641.5" y1="393.44" x2="648.6" y2="393.44" stroke="#666" stroke-width="1"/>
<text x="652.4" y="396.44" class="k">40</text>
<line x1="343" y1="349.96" x2="350.3" y2="349.96" stroke="#666" stroke-width="1"/>
<line x1="641.5" y1="349.96" x2="648.6" y2="349.96" stroke="#666" stroke-width="1"/>
<text x="652.4" y="352.96" class="k">60</text>
<line x1="343" y1="306.48" x2="350.3" y2="306.48" stroke="#666" stroke-width="1"/>
<line x1="641.5" y1="306.48" x2="648.6" y2="306.48" stroke="#666" stroke-width="1"/>
<text x="652.4" y="309.48" class="k">80</text>
<line x1="343" y1="263" x2="350.3" y2="263" stroke="#666" stroke-width="1"/>
<line x1="641.5" y1="263" x2="648.6" y2="263" stroke="#666" stroke-width="1"/>
<text x="652.4" y="266" class="k">100</text>
<text transform="translate(677.6 371.7) rotate(90)" text-anchor="middle" class="t" textLength="97.5" lengthAdjust="spacingAndGlyphs">HCN emission (ppm)</text>
<clipPath id="clip_e"><rect x="41.15" y="511" width="292.85" height="218"/></clipPath>
<rect x="41.65" y="511.5" width="291.85" height="217" fill="none" stroke="#666" stroke-width="1"/>
<g clip-path="url(#clip_e)">
<rect x="50.69" y="716.78" width="18.4" height="11.73" fill="#c0c0c0" stroke="#444" stroke-width="0.6"/>
<rect x="87.17" y="679.67" width="18.4" height="48.83" fill="#c0c0c0" stroke="#444" stroke-width="0.6"/>
<rect x="123.65" y="602.42" width="18.4" height="126.09" fill="#c0c0c0" stroke="#444" stroke-width="0.6"/>
<rect x="160.13" y="600.9" width="18.4" height="127.61" fill="#c0c0c0" stroke="#444" stroke-width="0.6"/>
<rect x="196.62" y="624.34" width="18.4" height="104.17" fill="#c0c0c0" stroke="#444" stroke-width="0.6"/>
<rect x="233.1" y="633.24" width="18.4" height="95.27" fill="#c0c0c0" stroke="#444" stroke-width="0.6"/>
<rect x="269.58" y="629.55" width="18.4" height="98.96" fill="#c0c0c0" stroke="#444" stroke-width="0.6"/>
<rect x="306.06" y="634.32" width="18.4" height="94.19" fill="#c0c0c0" stroke="#444" stroke-width="0.6"/>
<line x1="64.22" y1="724.51" x2="92.04" y2="701.67" stroke="#000" stroke-width="0.85"/>
<line x1="100.44" y1="694.27" x2="128.78" y2="667.46" stroke="#000" stroke-width="0.85"/>
<line x1="134.86" y1="658.39" x2="167.32" y2="574.01" stroke="#000" stroke-width="0.85"/>
<line x1="173.79" y1="565.4" x2="201.36" y2="544.4" stroke="#000" stroke-width="0.85"/>
<line x1="211.39" y1="540.45" x2="236.73" y2="537.89" stroke="#000" stroke-width="0.85"/>
<line x1="247.89" y1="536.99" x2="273.19" y2="535.49" stroke="#000" stroke-width="0.85"/>
<line x1="284.36" y1="534.75" x2="309.67" y2="532.95" stroke="#000" stroke-width="0.85"/>
<rect x="56.64" y="724.82" width="6.5" height="6.5" fill="#000" stroke="#000" stroke-width="0.6"/>
<rect x="93.12" y="694.87" width="6.5" height="6.5" fill="#000" stroke="#000" stroke-width="0.6"/>
<rect x="129.6" y="660.37" width="6.5" height="6.5" fill="#000" stroke="#000" stroke-width="0.6"/>
<rect x="166.08" y="565.54" width="6.5" height="6.5" fill="#000" stroke="#000" stroke-width="0.6"/>
<rect x="202.57" y="537.76" width="6.5" height="6.5" fill="#000" stroke="#000" stroke-width="0.6"/>
<rect x="239.05" y="534.07" width="6.5" height="6.5" fill="#000" stroke="#000" stroke-width="0.6"/>
<rect x="275.53" y="531.9" width="6.5" height="6.5" fill="#000" stroke="#000" stroke-width="0.6"/>
<rect x="312.01" y="529.3" width="6.5" height="6.5" fill="#000" stroke="#000" stroke-width="0.6"/>
<line x1="63.83" y1="719.53" x2="92.43" y2="690.6" stroke="#f00" stroke-width="0.85"/>
<line x1="100.34" y1="682.67" x2="128.88" y2="654.33" stroke="#f00" stroke-width="0.85"/>
<line x1="134.57" y1="645.05" x2="167.62" y2="542.44" stroke="#f00" stroke-width="0.85"/>
<line x1="174.01" y1="534.02" x2="201.14" y2="516.1" stroke="#f00" stroke-width="0.85"/>
<line x1="211.41" y1="513.25" x2="236.7" y2="514.31" stroke="#f00" stroke-width="0.85"/>
<line x1="247.89" y1="514.87" x2="273.19" y2="516.38" stroke="#f00" stroke-width="0.85"/>
<line x1="284.36" y1="517.17" x2="309.68" y2="519.28" stroke="#f00" stroke-width="0.85"/>
<path d="M59.89 718.31L64.14 726.11L55.64 726.11Z" fill="#f00" stroke="#f00" stroke-width="0.6" stroke-linejoin="miter"/>
<path d="M96.37 681.42L100.62 689.22L92.12 689.22Z" fill="#f00" stroke="#f00" stroke-width="0.6" stroke-linejoin="miter"/>
<path d="M132.85 645.18L137.1 652.98L128.6 652.98Z" fill="#f00" stroke="#f00" stroke-width="0.6" stroke-linejoin="miter"/>
<path d="M169.33 531.91L173.58 539.71L165.08 539.71Z" fill="#f00" stroke="#f00" stroke-width="0.6" stroke-linejoin="miter"/>
<path d="M205.82 507.82L210.07 515.62L201.57 515.62Z" fill="#f00" stroke="#f00" stroke-width="0.6" stroke-linejoin="miter"/>
<path d="M242.3 509.34L246.55 517.14L238.05 517.14Z" fill="#f00" stroke="#f00" stroke-width="0.6" stroke-linejoin="miter"/>
<path d="M278.78 511.51L283.03 519.31L274.53 519.31Z" fill="#f00" stroke="#f00" stroke-width="0.6" stroke-linejoin="miter"/>
<path d="M315.26 514.55L319.51 522.35L311.01 522.35Z" fill="#f00" stroke="#f00" stroke-width="0.6" stroke-linejoin="miter"/>
<line x1="61.98" y1="611.33" x2="94.28" y2="531.23" stroke="#000" stroke-width="0.85" stroke-dasharray="4 2.6"/>
<line x1="101.87" y1="524.99" x2="127.35" y2="520.14" stroke="#000" stroke-width="0.85" stroke-dasharray="4 2.6"/>
<line x1="138.45" y1="518.83" x2="163.74" y2="517.63" stroke="#000" stroke-width="0.85" stroke-dasharray="4 2.6"/>
<line x1="174.93" y1="517.19" x2="200.22" y2="516.44" stroke="#000" stroke-width="0.85" stroke-dasharray="4 2.6"/>
<line x1="211.42" y1="516.21" x2="236.7" y2="515.91" stroke="#000" stroke-width="0.85" stroke-dasharray="4 2.6"/>
<line x1="247.9" y1="515.94" x2="273.18" y2="516.39" stroke="#000" stroke-width="0.85" stroke-dasharray="4 2.6"/>
<line x1="284.38" y1="516.66" x2="309.66" y2="517.41" stroke="#000" stroke-width="0.85" stroke-dasharray="4 2.6"/>
<rect x="56.64" y="613.28" width="6.5" height="6.5" fill="#808080" stroke="#222" stroke-width="0.6"/>
<rect x="93.12" y="522.79" width="6.5" height="6.5" fill="#808080" stroke="#222" stroke-width="0.6"/>
<rect x="129.6" y="515.85" width="6.5" height="6.5" fill="#808080" stroke="#222" stroke-width="0.6"/>
<rect x="166.08" y="514.11" width="6.5" height="6.5" fill="#808080" stroke="#222" stroke-width="0.6"/>
<rect x="202.57" y="513.02" width="6.5" height="6.5" fill="#808080" stroke="#222" stroke-width="0.6"/>
<rect x="239.05" y="512.59" width="6.5" height="6.5" fill="#808080" stroke="#222" stroke-width="0.6"/>
<rect x="275.53" y="513.24" width="6.5" height="6.5" fill="#808080" stroke="#222" stroke-width="0.6"/>
<rect x="312.01" y="514.33" width="6.5" height="6.5" fill="#808080" stroke="#222" stroke-width="0.6"/>
<line x1="61.97" y1="597.44" x2="94.29" y2="516.7" stroke="#f00" stroke-width="0.85" stroke-dasharray="4 2.6"/>
<line x1="101.97" y1="511.5" x2="127.25" y2="511.5" stroke="#f00" stroke-width="0.85" stroke-dasharray="4 2.6"/>
<line x1="138.45" y1="511.5" x2="163.73" y2="511.5" stroke="#f00" stroke-width="0.85" stroke-dasharray="4 2.6"/>
<line x1="174.93" y1="511.63" x2="200.22" y2="512.23" stroke="#f00" stroke-width="0.85" stroke-dasharray="4 2.6"/>
<line x1="211.42" y1="512.37" x2="236.7" y2="512.37" stroke="#f00" stroke-width="0.85" stroke-dasharray="4 2.6"/>
<line x1="247.9" y1="512.37" x2="273.18" y2="512.37" stroke="#f00" stroke-width="0.85" stroke-dasharray="4 2.6"/>
<line x1="284.38" y1="512.37" x2="309.66" y2="512.37" stroke="#f00" stroke-width="0.85" stroke-dasharray="4 2.6"/>
<path d="M59.89 597.57L64.04 605.17L55.74 605.17Z" fill="#f00" stroke="#100" stroke-width="0.7" stroke-linejoin="miter"/>
<path d="M96.37 506.43L100.52 514.03L92.22 514.03Z" fill="#f00" stroke="#100" stroke-width="0.7" stroke-linejoin="miter"/>
<path d="M132.85 506.43L137 514.03L128.7 514.03Z" fill="#f00" stroke="#100" stroke-width="0.7" stroke-linejoin="miter"/>
<path d="M169.33 506.43L173.48 514.03L165.18 514.03Z" fill="#f00" stroke="#100" stroke-width="0.7" stroke-linejoin="miter"/>
<path d="M205.82 507.3L209.97 514.9L201.67 514.9Z" fill="#f00" stroke="#100" stroke-width="0.7" stroke-linejoin="miter"/>
<path d="M242.3 507.3L246.45 514.9L238.15 514.9Z" fill="#f00" stroke="#100" stroke-width="0.7" stroke-linejoin="miter"/>
<path d="M278.78 507.3L282.93 514.9L274.63 514.9Z" fill="#f00" stroke="#100" stroke-width="0.7" stroke-linejoin="miter"/>
<path d="M315.26 507.3L319.41 514.9L311.11 514.9Z" fill="#f00" stroke="#100" stroke-width="0.7" stroke-linejoin="miter"/>
</g>
<line x1="59.89" y1="728.5" x2="59.89" y2="735.3" stroke="#666" stroke-width="1"/>
<line x1="96.37" y1="728.5" x2="96.37" y2="735.3" stroke="#666" stroke-width="1"/>
<line x1="132.85" y1="728.5" x2="132.85" y2="735.3" stroke="#666" stroke-width="1"/>
<line x1="169.33" y1="728.5" x2="169.33" y2="735.3" stroke="#666" stroke-width="1"/>
<line x1="205.82" y1="728.5" x2="205.82" y2="735.3" stroke="#666" stroke-width="1"/>
<line x1="242.3" y1="728.5" x2="242.3" y2="735.3" stroke="#666" stroke-width="1"/>
<line x1="278.78" y1="728.5" x2="278.78" y2="735.3" stroke="#666" stroke-width="1"/>
<line x1="315.26" y1="728.5" x2="315.26" y2="735.3" stroke="#666" stroke-width="1"/>
<line x1="34.95" y1="728.5" x2="41.65" y2="728.5" stroke="#666" stroke-width="1"/>
<text x="31.2" y="731.15" text-anchor="end" class="k">0</text>
<line x1="34.95" y1="685.1" x2="41.65" y2="685.1" stroke="#666" stroke-width="1"/>
<text x="31.2" y="687.75" text-anchor="end" class="k">20</text>
<line x1="34.95" y1="641.7" x2="41.65" y2="641.7" stroke="#666" stroke-width="1"/>
<text x="31.2" y="644.35" text-anchor="end" class="k">40</text>
<line x1="34.95" y1="598.3" x2="41.65" y2="598.3" stroke="#666" stroke-width="1"/>
<text x="31.2" y="600.95" text-anchor="end" class="k">60</text>
<line x1="34.95" y1="554.9" x2="41.65" y2="554.9" stroke="#666" stroke-width="1"/>
<text x="31.2" y="557.55" text-anchor="end" class="k">80</text>
<line x1="34.95" y1="511.5" x2="41.65" y2="511.5" stroke="#666" stroke-width="1"/>
<text x="31.2" y="514.15" text-anchor="end" class="k">100</text>
<text transform="translate(7.6 620) rotate(-90)" text-anchor="middle" class="t" textLength="71.7" lengthAdjust="spacingAndGlyphs">Conversion (%)</text>
<clipPath id="clip_f"><rect x="349.8" y="511" width="292.2" height="218"/></clipPath>
<rect x="350.3" y="511.5" width="291.2" height="217" fill="none" stroke="#666" stroke-width="1"/>
<g clip-path="url(#clip_f)">
<rect x="359.3" y="710.27" width="18.4" height="18.24" fill="#c0c0c0" stroke="#444" stroke-width="0.6"/>
<rect x="395.7" y="673.6" width="18.4" height="54.91" fill="#c0c0c0" stroke="#444" stroke-width="0.6"/>
<rect x="432.1" y="644.52" width="18.4" height="83.99" fill="#c0c0c0" stroke="#444" stroke-width="0.6"/>
<rect x="468.5" y="636.71" width="18.4" height="91.8" fill="#c0c0c0" stroke="#444" stroke-width="0.6"/>
<rect x="504.9" y="728.5" width="18.4" height="0.01" fill="#c0c0c0" stroke="#444" stroke-width="0.6"/>
<rect x="541.3" y="728.5" width="18.4" height="0.01" fill="#c0c0c0" stroke="#444" stroke-width="0.6"/>
<rect x="577.7" y="728.5" width="18.4" height="0.01" fill="#c0c0c0" stroke="#444" stroke-width="0.6"/>
<rect x="614.1" y="728.5" width="18.4" height="0.01" fill="#c0c0c0" stroke="#444" stroke-width="0.6"/>
<line x1="373.04" y1="712.42" x2="400.36" y2="692.72" stroke="#000" stroke-width="0.85"/>
<line x1="408.83" y1="685.45" x2="437.37" y2="656.54" stroke="#000" stroke-width="0.85"/>
<line x1="444.26" y1="647.79" x2="474.74" y2="598.72" stroke="#000" stroke-width="0.85"/>
<line x1="480.07" y1="588.88" x2="511.73" y2="520.92" stroke="#000" stroke-width="0.85"/>
<line x1="519.68" y1="515.37" x2="544.92" y2="513.27" stroke="#000" stroke-width="0.85"/>
<line x1="556.09" y1="513.07" x2="581.31" y2="514.27" stroke="#000" stroke-width="0.85"/>
<line x1="592.39" y1="515.62" x2="617.81" y2="520.62" stroke="#000" stroke-width="0.85"/>
<rect x="365.25" y="712.45" width="6.5" height="6.5" fill="#000" stroke="#000" stroke-width="0.6"/>
<rect x="401.65" y="686.19" width="6.5" height="6.5" fill="#000" stroke="#000" stroke-width="0.6"/>
<rect x="438.05" y="649.3" width="6.5" height="6.5" fill="#000" stroke="#000" stroke-width="0.6"/>
<rect x="474.45" y="590.71" width="6.5" height="6.5" fill="#000" stroke="#000" stroke-width="0.6"/>
<rect x="510.85" y="512.59" width="6.5" height="6.5" fill="#000" stroke="#000" stroke-width="0.6"/>
<rect x="547.25" y="509.55" width="6.5" height="6.5" fill="#000" stroke="#000" stroke-width="0.6"/>
<rect x="583.65" y="511.29" width="6.5" height="6.5" fill="#000" stroke="#000" stroke-width="0.6"/>
<rect x="620.05" y="518.45" width="6.5" height="6.5" fill="#000" stroke="#000" stroke-width="0.6"/>
<line x1="372.91" y1="707.04" x2="400.49" y2="685.51" stroke="#f00" stroke-width="0.85"/>
<line x1="408.73" y1="677.98" x2="437.47" y2="647.31" stroke="#f00" stroke-width="0.85"/>
<line x1="443.97" y1="638.29" x2="475.03" y2="580.87" stroke="#f00" stroke-width="0.85"/>
<line x1="480.48" y1="571.09" x2="511.32" y2="517.01" stroke="#f00" stroke-width="0.85"/>
<line x1="519.7" y1="512.18" x2="544.9" y2="512.33" stroke="#f00" stroke-width="0.85"/>
<line x1="556.1" y1="512.37" x2="581.3" y2="512.37" stroke="#f00" stroke-width="0.85"/>
<line x1="592.49" y1="512.63" x2="617.71" y2="513.84" stroke="#f00" stroke-width="0.85"/>
<rect x="365.25" y="707.24" width="6.5" height="6.5" fill="#f00" stroke="#f00" stroke-width="0.6"/>
<rect x="401.65" y="678.81" width="6.5" height="6.5" fill="#f00" stroke="#f00" stroke-width="0.6"/>
<rect x="438.05" y="639.97" width="6.5" height="6.5" fill="#f00" stroke="#f00" stroke-width="0.6"/>
<rect x="474.45" y="572.7" width="6.5" height="6.5" fill="#f00" stroke="#f00" stroke-width="0.6"/>
<rect x="510.85" y="508.9" width="6.5" height="6.5" fill="#f00" stroke="#f00" stroke-width="0.6"/>
<rect x="547.25" y="509.12" width="6.5" height="6.5" fill="#f00" stroke="#f00" stroke-width="0.6"/>
<rect x="583.65" y="509.12" width="6.5" height="6.5" fill="#f00" stroke="#f00" stroke-width="0.6"/>
<rect x="620.05" y="510.85" width="6.5" height="6.5" fill="#f00" stroke="#f00" stroke-width="0.6"/>
<line x1="370.33" y1="625.12" x2="403.07" y2="530.25" stroke="#000" stroke-width="0.85" stroke-dasharray="4 2.6"/>
<line x1="410.46" y1="524.26" x2="435.74" y2="521.09" stroke="#000" stroke-width="0.85" stroke-dasharray="4 2.6"/>
<line x1="446.86" y1="519.77" x2="472.14" y2="516.9" stroke="#000" stroke-width="0.85" stroke-dasharray="4 2.6"/>
<line x1="483.3" y1="516.27" x2="508.5" y2="516.27" stroke="#000" stroke-width="0.85" stroke-dasharray="4 2.6"/>
<line x1="519.69" y1="516.67" x2="544.91" y2="518.48" stroke="#000" stroke-width="0.85" stroke-dasharray="4 2.6"/>
<line x1="556.1" y1="518.71" x2="581.3" y2="517.96" stroke="#000" stroke-width="0.85" stroke-dasharray="4 2.6"/>
<line x1="592.39" y1="518.91" x2="617.81" y2="524.06" stroke="#000" stroke-width="0.85" stroke-dasharray="4 2.6"/>
<rect x="365.25" y="627.17" width="6.5" height="6.5" fill="#808080" stroke="#222" stroke-width="0.6"/>
<rect x="401.65" y="521.7" width="6.5" height="6.5" fill="#808080" stroke="#222" stroke-width="0.6"/>
<rect x="438.05" y="517.15" width="6.5" height="6.5" fill="#808080" stroke="#222" stroke-width="0.6"/>
<rect x="474.45" y="513.02" width="6.5" height="6.5" fill="#808080" stroke="#222" stroke-width="0.6"/>
<rect x="510.85" y="513.02" width="6.5" height="6.5" fill="#808080" stroke="#222" stroke-width="0.6"/>
<rect x="547.25" y="515.63" width="6.5" height="6.5" fill="#808080" stroke="#222" stroke-width="0.6"/>
<rect x="583.65" y="514.54" width="6.5" height="6.5" fill="#808080" stroke="#222" stroke-width="0.6"/>
<rect x="620.05" y="521.92" width="6.5" height="6.5" fill="#808080" stroke="#222" stroke-width="0.6"/>
<line x1="370.18" y1="624.64" x2="403.22" y2="519.23" stroke="#f00" stroke-width="0.85" stroke-dasharray="4 2.6"/>
<line x1="410.49" y1="513.55" x2="435.71" y2="512.05" stroke="#f00" stroke-width="0.85" stroke-dasharray="4 2.6"/>
<line x1="446.9" y1="511.65" x2="472.1" y2="511.35" stroke="#f00" stroke-width="0.85" stroke-dasharray="4 2.6"/>
<line x1="483.3" y1="511.08" x2="508.5" y2="510.18" stroke="#f00" stroke-width="0.85" stroke-dasharray="4 2.6"/>
<line x1="519.7" y1="509.98" x2="544.9" y2="509.98" stroke="#f00" stroke-width="0.85" stroke-dasharray="4 2.6"/>
<line x1="556.1" y1="509.98" x2="581.3" y2="509.98" stroke="#f00" stroke-width="0.85" stroke-dasharray="4 2.6"/>
<line x1="592.5" y1="509.98" x2="617.7" y2="509.98" stroke="#f00" stroke-width="0.85" stroke-dasharray="4 2.6"/>
<path d="M368.5 624.92L372.65 632.52L364.35 632.52Z" fill="#f00" stroke="#100" stroke-width="0.7" stroke-linejoin="miter"/>
<path d="M404.9 508.82L409.05 516.42L400.75 516.42Z" fill="#f00" stroke="#100" stroke-width="0.7" stroke-linejoin="miter"/>
<path d="M441.3 506.65L445.45 514.25L437.15 514.25Z" fill="#f00" stroke="#100" stroke-width="0.7" stroke-linejoin="miter"/>
<path d="M477.7 506.22L481.85 513.82L473.55 513.82Z" fill="#f00" stroke="#100" stroke-width="0.7" stroke-linejoin="miter"/>
<path d="M514.1 504.91L518.25 512.51L509.95 512.51Z" fill="#f00" stroke="#100" stroke-width="0.7" stroke-linejoin="miter"/>
<path d="M550.5 504.91L554.65 512.51L546.35 512.51Z" fill="#f00" stroke="#100" stroke-width="0.7" stroke-linejoin="miter"/>
<path d="M586.9 504.91L591.05 512.51L582.75 512.51Z" fill="#f00" stroke="#100" stroke-width="0.7" stroke-linejoin="miter"/>
<path d="M623.3 504.91L627.45 512.51L619.15 512.51Z" fill="#f00" stroke="#100" stroke-width="0.7" stroke-linejoin="miter"/>
</g>
<line x1="368.5" y1="728.5" x2="368.5" y2="735.3" stroke="#666" stroke-width="1"/>
<line x1="404.9" y1="728.5" x2="404.9" y2="735.3" stroke="#666" stroke-width="1"/>
<line x1="441.3" y1="728.5" x2="441.3" y2="735.3" stroke="#666" stroke-width="1"/>
<line x1="477.7" y1="728.5" x2="477.7" y2="735.3" stroke="#666" stroke-width="1"/>
<line x1="514.1" y1="728.5" x2="514.1" y2="735.3" stroke="#666" stroke-width="1"/>
<line x1="550.5" y1="728.5" x2="550.5" y2="735.3" stroke="#666" stroke-width="1"/>
<line x1="586.9" y1="728.5" x2="586.9" y2="735.3" stroke="#666" stroke-width="1"/>
<line x1="623.3" y1="728.5" x2="623.3" y2="735.3" stroke="#666" stroke-width="1"/>
<line x1="343" y1="728.5" x2="350.3" y2="728.5" stroke="#666" stroke-width="1"/>
<line x1="641.5" y1="728.5" x2="648.6" y2="728.5" stroke="#666" stroke-width="1"/>
<text x="652.4" y="731.15" class="k">0</text>
<line x1="343" y1="685.1" x2="350.3" y2="685.1" stroke="#666" stroke-width="1"/>
<line x1="641.5" y1="685.1" x2="648.6" y2="685.1" stroke="#666" stroke-width="1"/>
<text x="652.4" y="687.75" class="k">20</text>
<line x1="343" y1="641.7" x2="350.3" y2="641.7" stroke="#666" stroke-width="1"/>
<line x1="641.5" y1="641.7" x2="648.6" y2="641.7" stroke="#666" stroke-width="1"/>
<text x="652.4" y="644.35" class="k">40</text>
<line x1="343" y1="598.3" x2="350.3" y2="598.3" stroke="#666" stroke-width="1"/>
<line x1="641.5" y1="598.3" x2="648.6" y2="598.3" stroke="#666" stroke-width="1"/>
<text x="652.4" y="600.95" class="k">60</text>
<line x1="343" y1="554.9" x2="350.3" y2="554.9" stroke="#666" stroke-width="1"/>
<line x1="641.5" y1="554.9" x2="648.6" y2="554.9" stroke="#666" stroke-width="1"/>
<text x="652.4" y="557.55" class="k">80</text>
<line x1="343" y1="511.5" x2="350.3" y2="511.5" stroke="#666" stroke-width="1"/>
<line x1="641.5" y1="511.5" x2="648.6" y2="511.5" stroke="#666" stroke-width="1"/>
<text x="652.4" y="514.15" class="k">100</text>
<text transform="translate(677.6 620) rotate(90)" text-anchor="middle" class="t" textLength="97.5" lengthAdjust="spacingAndGlyphs">HCN emission (ppm)</text>
<text x="41.6" y="11" class="pl">a</text>
<text x="349.8" y="11" class="pl">b</text>
<text x="41.6" y="259.1" class="pl">c</text>
<text x="349.6" y="259" class="pl">d</text>
<text x="41.6" y="506.2" class="pl">e</text>
<text x="349.8" y="505.9" class="pl">f</text>
<text x="188" y="11" text-anchor="middle" class="t" style="font-size:10.5px" textLength="31.3" lengthAdjust="spacingAndGlyphs">Si/Al 7</text>
<text x="495.6" y="11" text-anchor="middle" class="t" style="font-size:10.5px" textLength="36" lengthAdjust="spacingAndGlyphs">Si/Al 14</text>
<text x="60.04" y="747.1" text-anchor="middle" class="k">200</text>
<text x="96.52" y="747.1" text-anchor="middle" class="k">250</text>
<text x="133" y="747.1" text-anchor="middle" class="k">300</text>
<text x="169.48" y="747.1" text-anchor="middle" class="k">350</text>
<text x="205.97" y="747.1" text-anchor="middle" class="k">400</text>
<text x="242.45" y="747.1" text-anchor="middle" class="k">450</text>
<text x="278.93" y="747.1" text-anchor="middle" class="k">500</text>
<text x="315.41" y="747.1" text-anchor="middle" class="k">550</text>
<text x="368.65" y="747.1" text-anchor="middle" class="k">200</text>
<text x="405.05" y="747.1" text-anchor="middle" class="k">250</text>
<text x="441.45" y="747.1" text-anchor="middle" class="k">300</text>
<text x="477.85" y="747.1" text-anchor="middle" class="k">350</text>
<text x="514.25" y="747.1" text-anchor="middle" class="k">400</text>
<text x="550.65" y="747.1" text-anchor="middle" class="k">450</text>
<text x="587.05" y="747.1" text-anchor="middle" class="k">500</text>
<text x="623.45" y="747.1" text-anchor="middle" class="k">550</text>
<text x="187.9" y="762" text-anchor="middle" class="t" textLength="82.6" lengthAdjust="spacingAndGlyphs">Temperature (°C)</text>
<text x="479.0" y="762" text-anchor="middle" class="t" textLength="82.6" lengthAdjust="spacingAndGlyphs">Temperature (°C)</text>
<line x1="172.2" y1="786.1" x2="193.6" y2="786.1" stroke="#c6c6c6" stroke-width="1.5"/>
<rect x="180.15" y="783.1" width="5.8" height="5.8" fill="#000" stroke="#000" stroke-width="0.4"/>
<text x="197.4" y="789" class="t" textLength="131.1" lengthAdjust="spacingAndGlyphs">NO<tspan class="sub" dy="3.3" font-style="italic">x</tspan><tspan dy="-3.3"> </tspan>conversion with HCHO</text>
<line x1="172.2" y1="799.5" x2="193.6" y2="799.5" stroke="#ffb0b0" stroke-width="1.1"/>
<path d="M183.2 796.02L186.9 801.92L179.5 801.92Z" fill="#f00" stroke="#f00" stroke-width="0.4" stroke-linejoin="miter"/>
<text x="197.4" y="803" class="t" textLength="131.1" lengthAdjust="spacingAndGlyphs">NH<tspan class="sub" dy="3">3</tspan><tspan dy="-3"> </tspan>conversion with HCHO</text>
<rect x="172.6" y="809.2" width="20.6" height="9" fill="#c0c0c0" stroke="#666" stroke-width="0.9"/>
<text x="197.4" y="817" class="t" textLength="122.6" lengthAdjust="spacingAndGlyphs">HCN emission with HCHO</text>
<line x1="341.4" y1="786" x2="364" y2="786" stroke="#c4c4c4" stroke-width="1.4" stroke-dasharray="2 1.55"/>
<rect x="349.75" y="783.2" width="5.4" height="5.4" fill="#808080" stroke="#333" stroke-width="0.7"/>
<text x="366.2" y="789" class="t" textLength="146.1" lengthAdjust="spacingAndGlyphs">NO<tspan class="sub" dy="3.3" font-style="italic">x</tspan><tspan dy="-3.3"> </tspan>conversion without HCHO</text>
<line x1="341.4" y1="799.6" x2="364" y2="799.6" stroke="#ffb8b8" stroke-width="1.3" stroke-dasharray="2 1.55"/>
<path d="M352.5 796.17L355.75 801.47L349.25 801.47Z" fill="#f00" stroke="#300" stroke-width="0.6" stroke-linejoin="miter"/>
<text x="366.2" y="803" class="t" textLength="146.1" lengthAdjust="spacingAndGlyphs">NH<tspan class="sub" dy="3">3</tspan><tspan dy="-3"> </tspan>conversion without HCHO</text>
</svg>
</body></html>
